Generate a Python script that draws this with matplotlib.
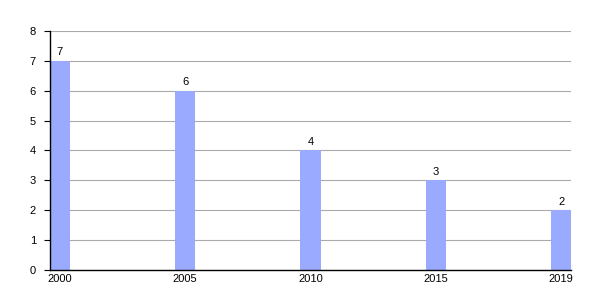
import numpy as np
from matplotlib import pyplot as plt

plt.rcParams['font.family'] = ['Liberation Sans', 'DejaVu Sans']

# categories and values
years = ['2000', '2005', '2010', '2015', '2019']
values = [7, 6, 4, 3, 2]

fig = plt.figure(figsize=(6, 3), dpi=100)
ax = fig.add_axes([0.083, 0.1, 0.869, 0.797])

x = np.arange(len(years))
bars = ax.bar(x, values, width=0.16, color='#99aaff', zorder=2)

# value labels on top of bars
for xi, v in zip(x, values):
    ax.text(xi, v + 0.12, str(v), ha='center', va='bottom', fontsize=8)

ax.set_xlim(-0.08, len(years) - 1 + 0.08)
ax.set_ylim(0, 8)
ax.set_xticks(x)
ax.set_xticklabels(years)
ax.set_yticks(range(0, 9))
ax.tick_params(axis='x', length=0, labelsize=8, pad=3)
ax.tick_params(axis='y', length=4, labelsize=8, pad=6)

ax.yaxis.grid(True, color='#aaaaaa', linewidth=0.8, zorder=0)
ax.spines['top'].set_visible(False)
ax.spines['right'].set_visible(False)
ax.spines['left'].set_linewidth(1)
ax.spines['bottom'].set_linewidth(1)

fig.savefig('out.png', dpi=100)
